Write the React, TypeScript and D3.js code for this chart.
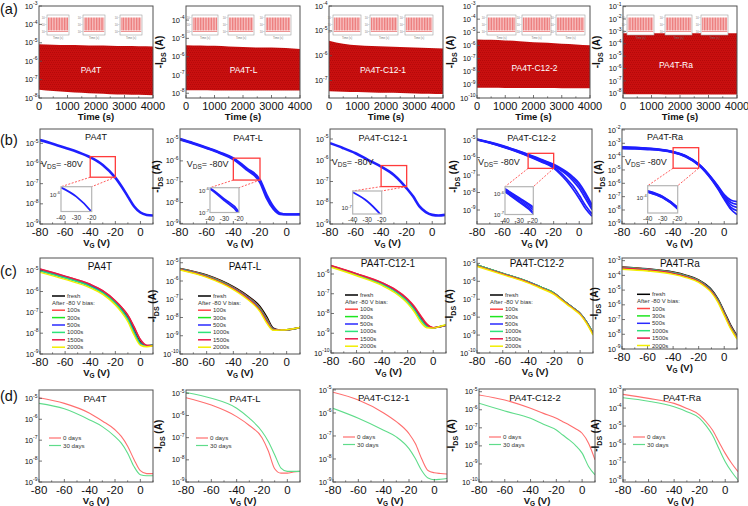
import React from "react";
import * as d3 from "d3";

const FONT = "'Liberation Sans', Arial, Helvetica, sans-serif";

/* ============================ DATA ============================ */
const SAMPLES = ["PA4T", "PA4T-L", "PA4T-C12-1", "PA4T-C12-2", "PA4T-Ra"];
const ROW_LABELS = ["(a)", "(b)", "(c)", "(d)"];

// (a) pulsed operation: log10(-IDS) upper / lower envelope vs time
const TIME_S = [0, 500, 1000, 1500, 2000, 2500, 3000, 3500, 4000];
const TIME_TICKS = [0, 1000, 2000, 3000, 4000];
const A_PA4T_TOP = [-5.08, -5.1, -5.12, -5.13, -5.15, -5.16, -5.18, -5.19, -5.2];
const A_PA4T_BOT = [-7.55, -7.62, -7.68, -7.72, -7.76, -7.79, -7.81, -7.83, -7.85];
const A_PA4TL_TOP = [-5.37, -5.39, -5.41, -5.44, -5.47, -5.5, -5.5, -5.53, -5.58];
const A_PA4TL_BOT = [-7.84, -7.84, -7.85, -7.85, -7.85, -7.85, -7.85, -7.85, -7.85];
const A_C121_TOP = [-5.4, -5.52, -5.58, -5.61, -5.63, -5.65, -5.67, -5.69, -5.71];
const A_C121_BOT = [-7.43, -7.45, -7.46, -7.48, -7.49, -7.5, -7.52, -7.53, -7.54];
const A_C122_TOP = [-5.54, -5.57, -5.62, -5.68, -5.75, -5.8, -5.87, -5.92, -5.98];
const A_C122_BOT = [-9.22, -9.22, -9.23, -9.23, -9.24, -9.24, -9.25, -9.25, -9.25];
const A_RA_TOP = [-3.15, -3.15, -3.15, -3.15, -3.15, -3.15, -3.16, -3.16, -3.16];
const A_RA_BOT = [-8.07, -8.08, -8.08, -8.09, -8.1, -8.1, -8.1, -8.1, -8.1];
const A_YTICKS = [
  [-8, -7, -6, -5, -4, -3],
  [-8, -7, -6, -5, -4],
  [-7, -6, -5, -4],
  [-10, -9, -8, -7, -6, -5, -4, -3],
  [-8, -7, -6, -5, -4, -3, -2, -1],
];
const A_INSET_TICKS = [-4, -6, -8];
const A_INSET_XLABEL = "Time (s)";

// (b) transfer curves, repeated sweeps, VDS = -80 V
const VG_B = [-80, -70, -60, -50, -40, -30, -20, -15, -10, -5, 0, 5, 10];
const VG_TICKS = [-80, -60, -40, -20, 0];
const ZOOM_VG = [-40, -30, -20];
const VDS_VALUE = "-80V";
const B_PA4T = [
  [-4.84, -5.02, -5.22, -5.43, -5.69, -6.07, -6.7, -7.14, -7.64, -8.13, -8.43, -8.55, -8.58],
];
const B_PA4TL = [
  [-4.95, -5.15, -5.37, -5.6, -5.88, -6.36, -6.92, -7.64, -8.2, -8.52, -8.57, -8.57, -8.56],
  [-4.97, -5.17, -5.39, -5.63, -5.92, -6.42, -7.02, -7.78, -8.3, -8.55, -8.57, -8.57, -8.56],
];
const B_C121 = [
  [-5.2, -5.42, -5.67, -5.99, -6.3, -6.69, -7.32, -7.7, -8.17, -8.44, -8.57, -8.6, -8.57],
];
const B_C122 = [
  [-4.95, -5.12, -5.32, -5.56, -5.82, -6.1, -6.39, -6.58, -6.81, -7.1, -7.47, -8.04, -8.71],
  [-4.96, -5.13, -5.34, -5.58, -5.84, -6.13, -6.43, -6.64, -6.88, -7.2, -7.6, -8.18, -8.85],
  [-4.97, -5.15, -5.36, -5.6, -5.87, -6.17, -6.48, -6.7, -6.96, -7.32, -7.76, -8.36, -8.98],
  [-4.98, -5.16, -5.38, -5.62, -5.9, -6.21, -6.55, -6.84, -7.2, -7.62, -8.16, -8.75, -9.22],
  [-4.99, -5.17, -5.39, -5.64, -5.92, -6.24, -6.6, -6.93, -7.32, -7.8, -8.34, -8.93, -9.35],
];
const B_RA = [
  [-3.26, -3.31, -3.37, -3.45, -3.62, -3.93, -4.55, -5.0, -5.56, -6.18, -6.85, -7.25, -7.38],
  [-3.29, -3.33, -3.39, -3.47, -3.64, -3.95, -4.57, -5.03, -5.6, -6.24, -6.94, -7.42, -7.58],
  [-3.32, -3.36, -3.41, -3.49, -3.66, -3.97, -4.6, -5.06, -5.64, -6.3, -7.03, -7.6, -7.8],
  [-3.36, -3.39, -3.44, -3.52, -3.68, -4.0, -4.62, -5.09, -5.68, -6.36, -7.12, -7.78, -8.05],
  [-3.4, -3.42, -3.47, -3.54, -3.7, -4.02, -4.65, -5.12, -5.72, -6.42, -7.2, -7.93, -8.35],
];
const B_ZOOM_Y = [
  [-6.68, -5.66],
  [-6.92, -5.87],
  [-7.24, -6.25],
  [-6.62, -5.76],
  [-4.87, -3.33],
];
const B_ZOOM_LABELS = [[-6], [-6, -7], [-7], [-6, -7], [-4]];
const B_YTICKS = [
  [-9, -8, -7, -6, -5],
  [-9, -8, -7, -6, -5],
  [-9, -8, -7, -6, -5],
  [-9, -8, -7, -6, -5],
  [-9, -8, -7, -6, -5, -4, -3, -2],
];

// (c) bias stress
const VG_CD = [-80, -60, -40, -30, -20, -15, -10, -5, 0, 5, 10];
const C_SERIES = ["fresh", "100s", "300s", "500s", "1000s", "1500s", "2000s"];
const C_HEADER = "After -80 V bias:";
const C_PA4T = [
  [-4.95, -5.29, -5.69, -6.0, -6.49, -6.81, -7.21, -7.82, -8.41, -8.6, -8.58],
  [-4.93, -5.27, -5.66, -5.97, -6.45, -6.76, -7.15, -7.72, -8.33, -8.6, -8.6],
  [-4.98, -5.32, -5.72, -6.04, -6.53, -6.86, -7.28, -7.9, -8.47, -8.62, -8.58],
  [-5.0, -5.34, -5.74, -6.06, -6.56, -6.89, -7.32, -7.95, -8.5, -8.62, -8.58],
  [-5.01, -5.35, -5.76, -6.08, -6.58, -6.92, -7.36, -8.0, -8.53, -8.63, -8.58],
  [-4.92, -5.26, -5.65, -5.96, -6.44, -6.75, -7.13, -7.7, -8.3, -8.58, -8.6],
  [-5.08, -5.42, -5.82, -6.14, -6.65, -7.0, -7.45, -8.1, -8.58, -8.65, -8.6],
];
const C_PA4TL = [
  [-5.31, -5.67, -6.31, -6.77, -7.4, -7.95, -8.58, -8.68, -8.68, -8.63, -8.55],
  [-5.33, -5.7, -6.35, -6.82, -7.48, -8.05, -8.63, -8.68, -8.68, -8.63, -8.55],
  [-5.34, -5.72, -6.37, -6.85, -7.52, -8.1, -8.65, -8.68, -8.67, -8.63, -8.55],
  [-5.35, -5.73, -6.39, -6.87, -7.55, -8.14, -8.66, -8.68, -8.67, -8.62, -8.55],
  [-5.36, -5.74, -6.4, -6.89, -7.57, -8.17, -8.67, -8.68, -8.67, -8.62, -8.55],
  [-5.37, -5.76, -6.42, -6.91, -7.6, -8.2, -8.68, -8.68, -8.67, -8.62, -8.55],
  [-5.4, -5.8, -6.47, -6.97, -7.68, -8.3, -8.7, -8.69, -8.67, -8.62, -8.55],
];
const C_C121 = [
  [-5.59, -6.0, -6.47, -6.81, -7.32, -7.69, -8.17, -8.59, -8.73, -8.67, -8.59],
  [-5.57, -5.98, -6.44, -6.77, -7.27, -7.62, -8.08, -8.52, -8.72, -8.67, -8.6],
  [-5.6, -6.02, -6.49, -6.84, -7.36, -7.74, -8.23, -8.63, -8.73, -8.67, -8.59],
  [-5.61, -6.03, -6.51, -6.86, -7.39, -7.78, -8.27, -8.65, -8.73, -8.67, -8.59],
  [-5.62, -6.04, -6.52, -6.88, -7.41, -7.8, -8.3, -8.66, -8.73, -8.66, -8.58],
  [-5.58, -5.99, -6.45, -6.79, -7.29, -7.65, -8.12, -8.55, -8.72, -8.67, -8.6],
  [-5.66, -6.09, -6.58, -6.95, -7.5, -7.9, -8.42, -8.72, -8.74, -8.66, -8.57],
];
const C_C122 = [
  [-5.1, -5.56, -6.03, -6.34, -6.67, -6.95, -7.23, -7.5, -7.79, -8.26, -8.88],
  [-5.1, -5.56, -6.03, -6.34, -6.67, -6.95, -7.23, -7.5, -7.79, -8.26, -8.88],
  [-5.1, -5.56, -6.03, -6.34, -6.67, -6.95, -7.23, -7.5, -7.79, -8.26, -8.88],
  [-5.11, -5.57, -6.04, -6.35, -6.68, -6.96, -7.24, -7.51, -7.8, -8.27, -8.9],
  [-5.1, -5.56, -6.03, -6.34, -6.67, -6.95, -7.23, -7.5, -7.79, -8.26, -8.86],
  [-5.13, -5.59, -6.06, -6.37, -6.7, -6.98, -7.26, -7.53, -7.82, -8.3, -8.93],
  [-5.17, -5.63, -6.1, -6.41, -6.74, -7.02, -7.3, -7.57, -7.86, -8.35, -9.0],
];
const C_RA = [
  [-3.42, -3.55, -3.77, -3.98, -4.3, -4.58, -4.96, -5.58, -6.45, -7.35, -8.08],
  [-3.44, -3.57, -3.8, -4.02, -4.34, -4.63, -5.02, -5.64, -6.52, -7.43, -8.15],
  [-3.46, -3.59, -3.82, -4.04, -4.36, -4.65, -5.04, -5.67, -6.56, -7.47, -8.19],
  [-3.47, -3.6, -3.83, -4.05, -4.37, -4.66, -5.05, -5.69, -6.58, -7.49, -8.21],
  [-3.48, -3.61, -3.84, -4.06, -4.38, -4.67, -5.07, -5.71, -6.6, -7.51, -8.23],
  [-3.5, -3.63, -3.86, -4.08, -4.4, -4.7, -5.1, -5.74, -6.63, -7.54, -8.26],
  [-3.58, -3.7, -3.93, -4.15, -4.47, -4.77, -5.17, -5.82, -6.72, -7.62, -8.33],
];
const C_YTICKS = [
  [-9, -8, -7, -6, -5],
  [-10, -9, -8, -7, -6, -5],
  [-10, -9, -8, -7, -6],
  [-10, -9, -8, -7, -6, -5],
  [-9, -8, -7, -6, -5, -4, -3],
];

// (d) air stability
const D_SERIES = ["0 days", "30 days"];
const D_PA4T = [
  [-4.97, -5.24, -5.71, -6.08, -6.5, -6.82, -7.29, -7.92, -8.46, -8.6, -8.6],
  [-5.24, -5.5, -6.03, -6.35, -6.83, -7.14, -7.62, -8.26, -8.65, -8.7, -8.7],
];
const D_PA4TL = [
  [-5.2, -5.53, -6.05, -6.45, -7.0, -7.6, -8.4, -8.6, -8.6, -8.55, -8.52],
  [-4.96, -5.22, -5.67, -6.12, -6.72, -7.17, -7.77, -8.37, -8.52, -8.52, -8.52],
];
const D_C121 = [
  [-5.1, -5.44, -6.0, -6.38, -6.9, -7.33, -7.99, -8.5, -8.6, -8.63, -8.65],
  [-5.8, -6.23, -6.75, -7.04, -7.55, -7.98, -8.5, -8.83, -8.9, -8.88, -8.85],
];
const D_C122 = [
  [-5.18, -5.46, -5.92, -6.2, -6.47, -6.66, -6.84, -7.05, -7.3, -7.85, -8.77],
  [-5.64, -6.07, -6.47, -6.8, -7.12, -7.4, -7.67, -7.98, -8.4, -9.14, -9.6],
];
const D_RA = [
  [-3.24, -3.46, -3.74, -4.02, -4.39, -4.76, -5.22, -5.87, -6.52, -7.07, -7.54],
  [-3.43, -3.62, -3.93, -4.2, -4.57, -4.98, -5.5, -6.25, -6.98, -7.54, -8.0],
];
const D_YTICKS = [
  [-9, -8, -7, -6, -5],
  [-9, -8, -7, -6, -5],
  [-9, -8, -7, -6, -5],
  [-10, -9, -8, -7, -6, -5],
  [-8, -7, -6, -5, -4, -3],
];

/* ============================ LAYOUT / STYLE ============================ */
type Frame = number[]; // left, top, right, bottom
const FRAMES_A: Frame[] = [[39, 6, 153, 98], [186, 6, 300, 98], [329, 6, 443, 98], [477, 6, 590, 98], [623, 6, 737, 98]];
const FRAMES_B: Frame[] = [[40, 129, 153, 224], [180, 129, 300, 224], [330, 129, 445, 224], [477, 129, 592, 224], [622, 129, 737, 224]];
const FRAMES_C: Frame[] = [[40, 258, 153, 354], [180, 258, 300, 354], [331, 258, 446, 353], [477, 258, 593, 353], [622, 258, 737, 349]];
const FRAMES_D: Frame[] = [[39, 390, 153, 482], [186, 390, 300, 482], [333, 389, 447, 482], [479, 389, 595, 482], [623, 389, 738, 482]];
const YDOM_A = [[-8, -3], [-8.26, -3.23], [-7.7, -4], [-10, -3], [-8.38, -0.95]];
const YDOM_B = [[-9, -4.29], [-9.03, -4.47], [-9, -4.53], [-9.8, -4.37], [-9.05, -1.93]];
const YDOM_C = [[-9, -4.39], [-10, -4.74], [-10, -5.19], [-10, -4.7], [-9, -2.82]];
const YDOM_D = [[-9, -4.6], [-9, -4.85], [-9, -4.96], [-10, -4.85], [-8.11, -2.94]];
const HAS_YTITLE = [false, true, false, true, true];
const ROW_LABEL_Y = [14, 145, 276, 401];
const TITLE_A = [[91, 73], [243.5, 73], [383, 73], [534.5, 71], [676, 68]];
const TITLE_B = [[96, 140], [248, 140.5], [383, 141], [531.7, 141], [665, 140]];
const TITLE_C = [[100, 270], [245, 269.5], [388, 267], [537, 267], [680, 266.5]];
const TITLE_D = [[95, 401.5], [245, 401.5], [383.7, 401], [535, 401], [682, 401]];
const VDS_POS = [[41, 167], [186.7, 167], [331.7, 164.5], [478, 164.5], [625, 164.5]];
const INSET_B = [[61, 186.7, 91.7, 211.5], [210, 187.7, 239, 212.5], [352.7, 191, 381.7, 214], [505, 186.7, 533.3, 214.5], [647.7, 185.7, 677.7, 213]];
const B_STROKE = [2.6, 2.4, 2.6, 1.7, 1.7];
const INSET_A_X = [[47, 83, 120], [192, 228, 265], [333, 370, 405], [487, 522, 556], [627, 665, 701]];
const INSET_A_W = [22, 26, 28, 29, 27];
const C_COLORS = ["#000000", "#ff4545", "#1ee61e", "#2a2aff", "#2de27a", "#e8174a", "#f2ee00"];
const C_LEG_DX = [12, 18, 14, 13, 15];
const C_LEG_DY = [38, 38, 37, 37, 36.3];
const D_COLORS = ["#ff6e6e", "#5fdc8a"];
const BLUE = "#1f1fff";
const AXIS = "#505050";

/* ============================ HELPERS ============================ */
type Scales = { xs: d3.ScaleLinear<number, number>; ys: d3.ScaleLogarithmic<number, number> };

function linePath(s: Scales, xv: number[], yv: number[]) {
  const gen = d3
    .line<number>()
    .x((_, k) => s.xs(xv[k]))
    .y((d) => s.ys(Math.pow(10, d)))
    .curve(d3.curveMonotoneX);
  return gen(yv) || "";
}

function Panel(props: {
  id: string;
  f: Frame;
  xDomain: number[];
  xTicks: number[];
  minor: number;
  xTickFs: number;
  xTitle: React.ReactNode;
  yDomain: number[];
  yTicks: number[];
  yTitle: boolean;
  yTitleDx: number;
  plot: (s: Scales) => React.ReactNode;
  overlay?: (s: Scales) => React.ReactNode;
}) {
  const [l, t, r, b] = props.f;
  const xs = d3.scaleLinear().domain(props.xDomain).range([l, r]);
  const ys = d3
    .scaleLog()
    .domain([Math.pow(10, props.yDomain[0]), Math.pow(10, props.yDomain[1])])
    .range([b, t]);
  const s = { xs, ys };
  const minors = d3.range(props.xDomain[0], props.xDomain[1] + 1e-9, props.minor);
  return (
    <g>
      <clipPath id={props.id}>
        <rect x={l} y={t} width={r - l} height={b - t} />
      </clipPath>
      <g clipPath={`url(#${props.id})`}>{props.plot(s)}</g>
      <rect x={l} y={t} width={r - l} height={b - t} fill="none" stroke={AXIS} strokeWidth={1} />
      {minors.map((v) => (
        <line key={"mt" + v} x1={xs(v)} x2={xs(v)} y1={b} y2={b - (props.xTicks.includes(v) ? 3 : 1.6)} stroke={AXIS} strokeWidth={0.8} />
      ))}
      {props.xTicks.map((v) => (
        <text key={"xt" + v} x={xs(v)} y={b + 12} textAnchor="middle" fontSize={props.xTickFs} fill="#111">
          {String(v)}
        </text>
      ))}
      {props.yTicks.map((e) => {
        const y = ys(Math.pow(10, e));
        return (
          <g key={"yt" + e}>
            <line x1={l} x2={l + 3} y1={y} y2={y} stroke={AXIS} strokeWidth={0.8} />
            <text x={l - 1.5} y={y + 2.6} textAnchor="end" fontSize={7.5} fill="#111">
              10<tspan dy={-3.4} fontSize={5}>{String(e)}</tspan>
            </text>
          </g>
        );
      })}
      <text x={(l + r) / 2} y={b + 22} textAnchor="middle" fontSize={9.5} fontWeight="bold" fill="#111">
        {props.xTitle}
      </text>
      {props.yTitle && (
        <text
          transform={`translate(${l + props.yTitleDx},${(t + b) / 2}) rotate(-90)`}
          textAnchor="middle"
          fontSize={10}
          fontWeight="bold"
          fill="#111"
        >
          -I<tspan fontSize={7} dy={2.5}>DS</tspan>
          <tspan dy={-2.5}> (A)</tspan>
        </text>
      )}
      {props.overlay && props.overlay(s)}
    </g>
  );
}

const VG_TITLE = (
  <>
    V<tspan fontSize={6.5} dy={2}>G</tspan>
    <tspan dy={-2}> (V)</tspan>
  </>
);

/* ============================ APP ============================ */
export default function App() {
  const A_TOPS = [A_PA4T_TOP, A_PA4TL_TOP, A_C121_TOP, A_C122_TOP, A_RA_TOP];
  const A_BOTS = [A_PA4T_BOT, A_PA4TL_BOT, A_C121_BOT, A_C122_BOT, A_RA_BOT];
  const B_CURVES = [B_PA4T, B_PA4TL, B_C121, B_C122, B_RA];
  const C_CURVES = [C_PA4T, C_PA4TL, C_C121, C_C122, C_RA];
  const D_CURVES = [D_PA4T, D_PA4TL, D_C121, D_C122, D_RA];

  return (
    <svg
      width={748}
      height={506}
      viewBox="0 0 748 506"
      style={{ position: "absolute", left: 0, top: 0, background: "#fff" }}
      fontFamily={FONT}
    >
      <defs>
        <pattern id="pulseMain" patternUnits="userSpaceOnUse" width={2} height={4}>
          <rect width={2} height={4} fill="#c90f0f" />
          <rect x={0} y={0} width={1} height={1} fill="#b30909" />
          <rect x={1} y={2} width={1} height={1} fill="#b80a0a" />
        </pattern>
        <pattern id="pulseInset" patternUnits="userSpaceOnUse" width={1.6} height={10}>
          <rect width={1.6} height={10} fill="#f7c2c2" />
          <rect x={0} y={0} width={0.45} height={10} fill="#e23a3a" />
        </pattern>
      </defs>
      <rect width={748} height={506} fill="#fff" />

      {/* row labels */}
      {ROW_LABELS.map((lab, i) => (
        <text key={lab} x={0} y={ROW_LABEL_Y[i]} fontSize={14.5} fill="#111">
          {lab}
        </text>
      ))}

      {/* ---------------- row (a) ---------------- */}
      {SAMPLES.map((name, i) => (
        <Panel
          key={"a" + i}
          id={"clipA" + i}
          f={FRAMES_A[i]}
          xDomain={[0, 4000]}
          xTicks={TIME_TICKS}
          minor={500}
          xTickFs={11}
          xTitle="Time (s)"
          yDomain={YDOM_A[i]}
          yTicks={A_YTICKS[i]}
          yTitle={HAS_YTITLE[i]}
          yTitleDx={-23}
          plot={(s) => {
            const area = d3
              .area<number>()
              .x((_, k) => s.xs(TIME_S[k]))
              .y0((_, k) => s.ys(Math.pow(10, A_BOTS[i][k])))
              .y1((d) => s.ys(Math.pow(10, d)))
              .curve(d3.curveMonotoneX);
            return <path d={area(A_TOPS[i]) || ""} fill="url(#pulseMain)" />;
          }}
          overlay={() => (
            <g>
              {INSET_A_X[i].map((x0, k) => {
                const w = INSET_A_W[i];
                const y0 = 15;
                const h = 20;
                const yi = d3.scaleLinear().domain([-9, -3]).range([y0 + h, y0]);
                return (
                  <g key={k}>
                    <rect x={x0} y={y0} width={w} height={h} fill="#fff" stroke="#a0a0a0" strokeWidth={0.6} />
                    <rect x={x0 + 0.8} y={y0 + 2.5} width={w - 1.6} height={h - 7} fill="url(#pulseInset)" />
                    <line x1={x0 + 0.8} x2={x0 + w - 0.8} y1={y0 + h - 3.5} y2={y0 + h - 3.5} stroke="#e04a4a" strokeWidth={0.6} />
                    {A_INSET_TICKS.map((e) => (
                      <text key={e} x={x0 - 0.8} y={yi(e) + 1} fontSize={2.6} textAnchor="end" fill="#777">
                        10<tspan dy={-1} fontSize={1.8}>{String(e)}</tspan>
                      </text>
                    ))}
                    <text x={x0 + w / 2} y={y0 + h + 4} fontSize={2.8} textAnchor="middle" fill="#777">
                      {A_INSET_XLABEL}
                    </text>
                  </g>
                );
              })}
              <text x={TITLE_A[i][0]} y={TITLE_A[i][1]} textAnchor="middle" fontSize={8.5} fill="#fff">
                {name}
              </text>
            </g>
          )}
        />
      ))}

      {/* ---------------- row (b) ---------------- */}
      {SAMPLES.map((name, i) => (
        <Panel
          key={"b" + i}
          id={"clipB" + i}
          f={FRAMES_B[i]}
          xDomain={[-80, 10]}
          xTicks={VG_TICKS}
          minor={10}
          xTickFs={11.5}
          xTitle={VG_TITLE}
          yDomain={YDOM_B[i]}
          yTicks={B_YTICKS[i]}
          yTitle={HAS_YTITLE[i]}
          yTitleDx={-20}
          plot={(s) => (
            <g>
              {B_CURVES[i].map((c, k) => (
                <path key={k} d={linePath(s, VG_B, c)} fill="none" stroke={BLUE} strokeWidth={B_STROKE[i]} />
              ))}
            </g>
          )}
          overlay={(s) => {
            const [zlo, zhi] = B_ZOOM_Y[i];
            const rx0 = s.xs(ZOOM_VG[0]);
            const rx1 = s.xs(ZOOM_VG[2]);
            const ry0 = s.ys(Math.pow(10, zhi));
            const ry1 = s.ys(Math.pow(10, zlo));
            const [il, it, ir, ib] = INSET_B[i];
            const si: Scales = {
              xs: d3.scaleLinear().domain([ZOOM_VG[0], ZOOM_VG[2]]).range([il, ir]),
              ys: d3.scaleLog().domain([Math.pow(10, zlo), Math.pow(10, zhi)]).range([ib, it]),
            };
            return (
              <g>
                <line x1={rx0} y1={ry1} x2={il} y2={it} stroke="#ff4a4a" strokeWidth={0.9} strokeDasharray="2,1.5" />
                <line x1={rx1} y1={ry1} x2={ir} y2={it} stroke="#ff4a4a" strokeWidth={0.9} strokeDasharray="2,1.5" />
                <rect x={rx0} y={ry0} width={rx1 - rx0} height={ry1 - ry0} fill="none" stroke="#ff3b3b" strokeWidth={1.3} />
                <clipPath id={"clipBI" + i}>
                  <rect x={il} y={it} width={ir - il} height={ib - it} />
                </clipPath>
                <rect x={il} y={it} width={ir - il} height={ib - it} fill="#fff" />
                <g clipPath={`url(#clipBI${i})`}>
                  {B_CURVES[i].map((c, k) => (
                    <path key={k} d={linePath(si, VG_B, c)} fill="none" stroke={BLUE} strokeWidth={i >= 3 ? 1.5 : 1.8} />
                  ))}
                </g>
                <rect x={il} y={it} width={ir - il} height={ib - it} fill="none" stroke="#b4b4b4" strokeWidth={1.2} />
                {ZOOM_VG.map((v) => (
                  <text key={v} x={si.xs(v)} y={ib + 8} textAnchor="middle" fontSize={6.5} fill="#333">
                    {String(v)}
                  </text>
                ))}
                {B_ZOOM_LABELS[i].map((e) => {
                  const y = Math.max(it + 3, Math.min(ib, si.ys(Math.pow(10, e))));
                  return (
                    <text key={e} x={il - 1} y={y + 2} textAnchor="end" fontSize={6} fill="#333">
                      10<tspan dy={-2.8} fontSize={4}>{String(e)}</tspan>
                    </text>
                  );
                })}
                <text x={VDS_POS[i][0]} y={VDS_POS[i][1]} fontSize={9} fill="#222">
                  V<tspan fontSize={6.5} dy={2}>DS</tspan>
                  <tspan dy={-2}>= {VDS_VALUE}</tspan>
                </text>
                <text x={TITLE_B[i][0]} y={TITLE_B[i][1]} textAnchor="middle" fontSize={9} fill="#111">
                  {name}
                </text>
              </g>
            );
          }}
        />
      ))}

      {/* ---------------- row (c) ---------------- */}
      {SAMPLES.map((name, i) => (
        <Panel
          key={"c" + i}
          id={"clipC" + i}
          f={FRAMES_C[i]}
          xDomain={[-80, 10]}
          xTicks={VG_TICKS}
          minor={10}
          xTickFs={11.5}
          xTitle={VG_TITLE}
          yDomain={YDOM_C[i]}
          yTicks={C_YTICKS[i]}
          yTitle={HAS_YTITLE[i]}
          yTitleDx={-24}
          plot={(s) => (
            <g>
              {C_CURVES[i].map((c, k) => (
                <path key={k} d={linePath(s, VG_CD, c)} fill="none" stroke={C_COLORS[k]} strokeWidth={1.4} />
              ))}
            </g>
          )}
          overlay={() => {
            const [l, t] = FRAMES_C[i];
            const lx = l + C_LEG_DX[i];
            const rows = [0, 1, 2, 3, 4, 5, 6];
            const yOf = (k: number) => t + C_LEG_DY[i] + (k === 0 ? 0 : 6.8 + k * 7.4);
            return (
              <g>
                {rows.map((k) => (
                  <g key={k}>
                    <line x1={lx} x2={lx + 13} y1={yOf(k)} y2={yOf(k)} stroke={C_COLORS[k]} strokeWidth={1.5} />
                    <text x={lx + 15} y={yOf(k) + 2} fontSize={6} fill="#333">
                      {C_SERIES[k]}
                    </text>
                  </g>
                ))}
                <text x={lx} y={t + C_LEG_DY[i] + 8.5} fontSize={6} fill="#333">
                  {C_HEADER}
                </text>
                <text x={TITLE_C[i][0]} y={TITLE_C[i][1]} textAnchor="middle" fontSize={10} fill="#111">
                  {name}
                </text>
              </g>
            );
          }}
        />
      ))}

      {/* ---------------- row (d) ---------------- */}
      {SAMPLES.map((name, i) => (
        <Panel
          key={"d" + i}
          id={"clipD" + i}
          f={FRAMES_D[i]}
          xDomain={[-80, 10]}
          xTicks={VG_TICKS}
          minor={10}
          xTickFs={11.5}
          xTitle={VG_TITLE}
          yDomain={YDOM_D[i]}
          yTicks={D_YTICKS[i]}
          yTitle={HAS_YTITLE[i]}
          yTitleDx={-24}
          plot={(s) => (
            <g>
              {D_CURVES[i].map((c, k) => (
                <path key={k} d={linePath(s, VG_CD, c)} fill="none" stroke={D_COLORS[k]} strokeWidth={1.1} />
              ))}
            </g>
          )}
          overlay={() => {
            const [l, t] = FRAMES_D[i];
            return (
              <g>
                {D_SERIES.map((lab, k) => (
                  <g key={lab}>
                    <line x1={l + 10} x2={l + 22} y1={t + 48 + k * 7.5} y2={t + 48 + k * 7.5} stroke={D_COLORS[k]} strokeWidth={1.2} />
                    <text x={l + 24} y={t + 50 + k * 7.5} fontSize={6.2} fill="#333">
                      {lab}
                    </text>
                  </g>
                ))}
                <text x={TITLE_D[i][0]} y={TITLE_D[i][1]} textAnchor="middle" fontSize={9.5} fill="#111">
                  {name}
                </text>
              </g>
            );
          }}
        />
      ))}
    </svg>
  );
}
